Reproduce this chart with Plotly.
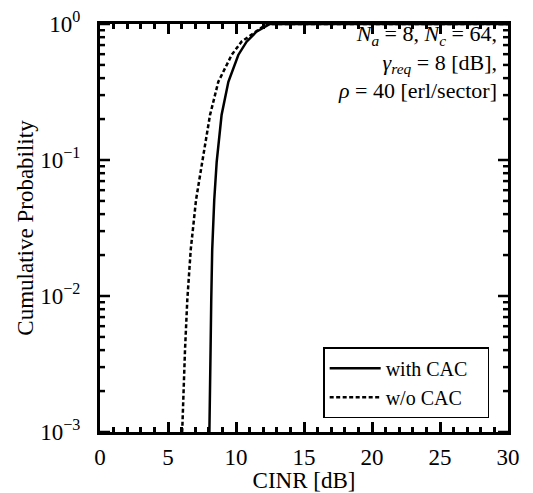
import numpy as np
import plotly.graph_objects as go

# CDF of CINR
cinr_with_cac = [8.0, 8.02, 8.04, 8.13, 8.18, 8.25, 8.4, 8.58, 8.94, 9.44, 10.17, 10.78, 11.5, 12.5, 30.0]
prob_with_cac = [0.0005, 0.0008, 0.00103, 0.0040, 0.0094, 0.0218, 0.0508, 0.097, 0.214, 0.376, 0.592, 0.741, 0.878, 1.0, 1.0]

cinr_wo_cac = [5.98, 6.05, 6.25, 6.42, 6.67, 7.06, 7.52, 8.09, 8.70, 9.68, 10.4, 11.4, 12.25, 30.0]
prob_wo_cac = [0.0008, 0.00105, 0.0040, 0.0094, 0.0218, 0.0508, 0.097, 0.214, 0.376, 0.592, 0.741, 0.878, 1.0, 1.0]

x_ticks = [0, 5, 10, 15, 20, 25, 30]
y_decades = [-3, -2, -1, 0]           # log10 of probability
y_ticktext = ["10<sup>−3</sup>", "10<sup>−2</sup>", "10<sup>−1</sup>", "10<sup>0</sup>"]

FONT = "Liberation Serif"
NB = "\u00a0"
PLOT_W = 533 - 100 - 25               # plot width in px (for tick lengths in paper units)

fig = go.Figure()
fig.add_trace(go.Scatter(x=cinr_with_cac, y=np.log10(prob_with_cac), mode="lines", name="with CAC" + NB * 3,
                         line=dict(color="black", width=2.5)))
fig.add_trace(go.Scatter(x=cinr_wo_cac, y=np.log10(prob_wo_cac), mode="lines", name="w/o CAC",
                         line=dict(color="black", width=2.5, dash="4px,2.5px")))

fig.update_layout(
    template="none",
    xaxis=dict(range=[0, 30], tickvals=x_ticks, ticks="inside", ticklen=10, tickwidth=2.5, tickcolor="black",
               showline=True, linecolor="black", linewidth=3, mirror="ticks",
               showgrid=False, zeroline=False, automargin=False,
               tickfont=dict(family=FONT, size=23, color="black"),
               title=dict(text="CINR [dB]", font=dict(family=FONT, size=23, color="black")),
               minor=dict(ticks="inside", dtick=1, ticklen=5, tickwidth=2.5, tickcolor="black", showgrid=False),
               ticklabelstandoff=2),
    yaxis=dict(range=[-3, 0], tickvals=y_decades, ticktext=y_ticktext, ticks="",
               showline=True, linecolor="black", linewidth=3, mirror=True,
               showgrid=False, zeroline=False, automargin=False,
               tickfont=dict(family=FONT, size=23, color="black"),
               title=dict(text="Cumulative Probability", font=dict(family=FONT, size=23, color="black")),
               ticklabelstandoff=12),
)

# y tick marks (decades long, 2..9 short) on both the left and the right frame, placed on the y scale
for e in y_decades[:-1]:
    for m in range(1, 10):
        yv = float(np.log10(m * 10.0 ** e))
        ln = (10 if m == 1 else 5) / PLOT_W
        for x0, x1 in ((0, ln), (1 - ln, 1)):
            fig.add_shape(type="line", xref="paper", yref="y", x0=x0, x1=x1, y0=yv, y1=yv,
                          line=dict(color="black", width=2.5), layer="above")
for x0, x1 in ((0, 10 / PLOT_W), (1 - 10 / PLOT_W, 1)):
    fig.add_shape(type="line", xref="paper", yref="y", x0=x0, x1=x1, y0=y_decades[-1], y1=y_decades[-1],
                  line=dict(color="black", width=2.5), layer="above")

fig.add_annotation(xref="paper", yref="paper", x=0.978, y=1.012, xanchor="right", yanchor="top",
                   align="right", showarrow=False,
                   text="<i>N</i><sub><i>a</i></sub> = 8, <i>N</i><sub><i>c</i></sub> = 64,<br>"
                        "<i>γ</i><sub><i>req</i></sub> = 8 [dB],<br>"
                        "<i>ρ</i> = 40 [erl/sector]",
                   font=dict(family=FONT, size=22, color="black"))

fig.update_layout(
    width=533, height=493,
    margin=dict(l=100, r=25, t=24, b=61),
    plot_bgcolor="white", paper_bgcolor="white",
    font=dict(family=FONT, color="black"),
    legend=dict(x=0.547, y=0.034, xanchor="left", yanchor="bottom",
                bordercolor="black", borderwidth=1.5, bgcolor="white",
                font=dict(family=FONT, size=20, color="black"),
                itemwidth=51),
)

fig.write_html("out.html")
